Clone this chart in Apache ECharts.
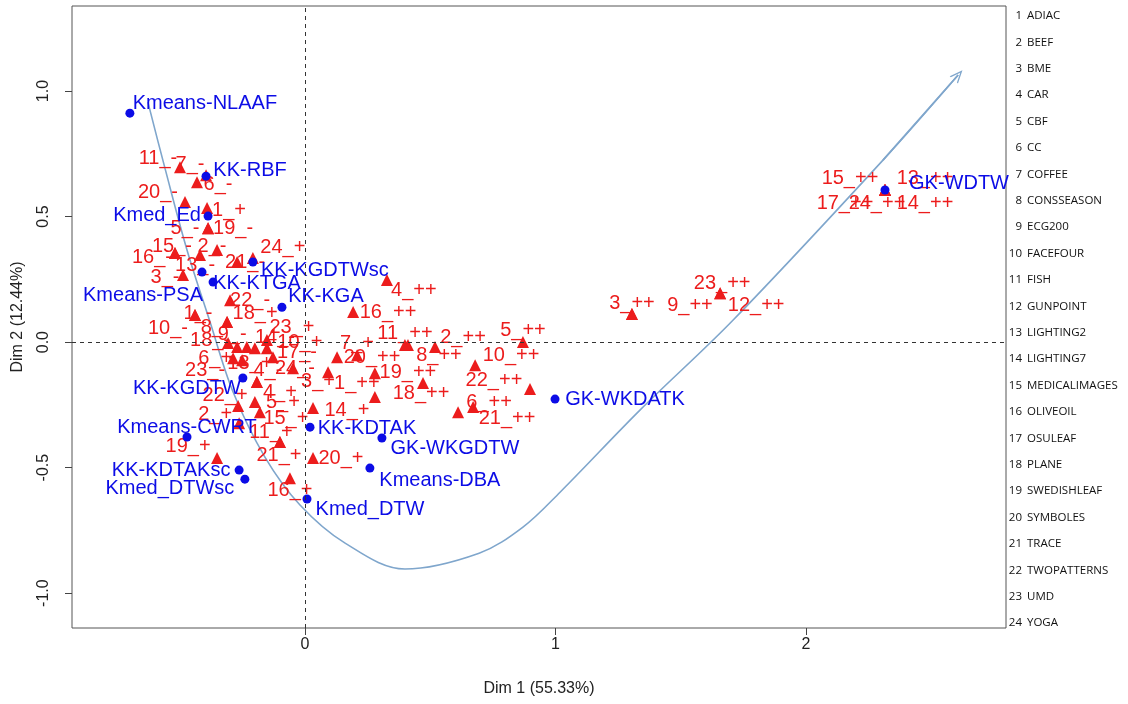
<!DOCTYPE html>
<html>
<head>
<meta charset="utf-8">
<script src="https://cdn.jsdelivr.net/npm/echarts@6/dist/echarts.min.js"></script>
<style>
html,body{margin:0;padding:0;background:#fff;}
#chart{width:1128px;height:704px;}
</style>
</head>
<body>
<div id="chart"></div>
<script>
// ---- data ----
const datasetNames = ['ADIAC','BEEF','BME','CAR','CBF','CC','COFFEE','CONSSEASON','ECG200','FACEFOUR','FISH','GUNPOINT','LIGHTING2','LIGHTING7','MEDICALIMAGES','OLIVEOIL','OSULEAF','PLANE','SWEDISHLEAF','SYMBOLES','TRACE','TWOPATTERNS','UMD','YOGA'];

const xTicks = [0, 1, 2];
const yTicks = [-1, -0.5, 0, 0.5, 1];

// individuals (blue)
const indNames = ['Kmeans-NLAAF','KK-RBF','Kmed_Ed','Kmeans-PSA','KK-KTGA','KK-KGDTWsc','KK-KGA','KK-KGDTW','Kmeans-CWRT','KK-KDTAKsc','Kmed_DTWsc','KK-KDTAK','GK-WKGDTW','Kmeans-DBA','Kmed_DTW','GK-WKDATK','GK-WDTW'];
const indX = [-0.699,-0.395,-0.387,-0.411,-0.367,-0.208,-0.092,-0.248,-0.471,-0.263,-0.240,0.020,0.307,0.259,0.008,0.998,2.315];
const indY = [0.912,0.661,0.502,0.279,0.239,0.319,0.139,-0.143,-0.378,-0.510,-0.546,-0.339,-0.382,-0.502,-0.625,-0.227,0.606];

// categories (red)
const modNames = ['11_-','7_-','6_-','20_-','1_+','5_-','19_-','2_-','15_-','16_-','24_+','21_-','13_-','3_-','22_-','18_+','1_-','10_-','8_-','23_+','9_-','18_-','14_-','10_+','17_-','6_+','13_+','23_-','4_-','24_-','3_+','4_+','22_+','5_+','2_+','15_+','14_+','11_+','19_+','21_+','20_+','16_+','4_++','16_++','11_++','2_++','5_++','7_+','20_++','8_++','10_++','19_++','1_++','22_++','18_++','6_++','21_++','3_++','9_++','12_++','23_++','15_++','13_++','17_++','24_++','14_++'];
const modX = [-0.499,-0.395,-0.431,-0.479,-0.391,-0.387,-0.387,-0.351,-0.519,-0.519,-0.208,-0.271,-0.419,-0.487,-0.299,-0.311,-0.439,-0.439,-0.311,-0.152,-0.307,-0.271,-0.152,-0.200,-0.128,-0.287,-0.232,-0.251,-0.192,-0.048,0.092,-0.192,-0.267,-0.200,-0.263,-0.180,0.032,-0.100,-0.351,-0.100,0.032,-0.060,0.327,0.192,0.399,0.519,0.870,0.128,0.208,0.411,0.679,0.279,0.279,0.898,0.471,0.671,0.611,1.305,1.305,1.657,1.657,2.315,2.315,2.315,2.315,2.315];
const modY = [0.697,0.665,0.637,0.558,0.534,0.454,0.454,0.367,0.355,0.355,0.335,0.319,0.347,0.267,0.167,0.080,0.108,0.108,0.080,0.008,-0.004,-0.020,-0.024,-0.024,-0.060,-0.064,-0.020,-0.072,-0.159,-0.104,-0.120,-0.159,-0.255,-0.239,-0.323,-0.279,-0.263,-0.398,-0.462,-0.398,-0.462,-0.542,0.247,0.120,-0.012,-0.020,0.000,-0.060,-0.052,-0.012,-0.092,-0.124,-0.219,-0.187,-0.163,-0.259,-0.279,0.112,0.112,0.195,0.195,0.606,0.606,0.606,0.606,0.606];

// trajectory curve
const curveX = [-0.627,-0.559,-0.471,-0.379,-0.287,-0.160,-0.020,0.160,0.399,0.695,0.870,1.018,1.337,1.709,2.307,2.607];
const curveY = [0.956,0.693,0.367,0.080,-0.199,-0.458,-0.649,-0.801,-0.904,-0.841,-0.737,-0.598,-0.271,0.088,0.725,1.064];

// ---- label placement (pixel offsets, style only) ----
const indLabelOffset = [[75,-10],[44,-6],[-51,-1],[-59,23],[44,1],[72,8],[44,-11],[-56,10],[0,-9],[-68,0],[-75,9],[57,1],[73,10],[70,12],[63,11],[70,0],[74,-7]];
const modLabelOffset = [[-22,-9],[-16,-11],[21,2],[-27,-10],[22,2],[-23,0],[25,0],[-5,-3],[-3,-7],[-23,4],[30,-11],[8,0],[-5,10],[-18,2],[20,0],[28,-9],[3,-2],[-27,13],[-12,5],[25,-13],[4,-9],[-27,-7],[8,-11],[45,-6],[24,-5],[-18,0],[3,16],[-37,10],[11,-12],[2,0],[-10,9],[23,10],[-13,-11],[28,0],[-24,-9],[26,6],[34,2],[-9,-10],[-29,-12],[-1,13],[28,0],[0,12],[27,10],[35,1],[0,-12],[28,-10],[0,-12],[20,-14],[15,2],[31,10],[36,-10],[33,-1],[-18,-14],[-36,-9],[-2,10],[16,-5],[49,6],[0,-11],[58,-9],[36,12],[2,-10],[-35,-12],[40,-12],[-40,13],[-8,13],[40,13]];

const RED = '#ec1c1c';
const BLUE = '#0c0ce6';
const CURVE = '#7fa6cc';
const FONT = '"Liberation Sans", Arial, sans-serif';

const curveData = curveX.map((x, i) => [x, curveY[i]]);
const n = curveData.length;

const legendGraphics = [];
datasetNames.forEach((name, i) => {
  const y = 16 + i * 26.4;
  legendGraphics.push({type:'text', x:1022, y:y, silent:true,
    style:{text:String(i+1), fill:'#111', font:'11.5px "Open Sans", sans-serif', textAlign:'right', align:'right', textVerticalAlign:'middle', verticalAlign:'middle'}});
  legendGraphics.push({type:'text', x:1027, y:y, silent:true,
    style:{text:name, fill:'#111', font:'11.5px "Open Sans", sans-serif', textAlign:'left', align:'left', textVerticalAlign:'middle', verticalAlign:'middle'}});
});

const chart = echarts.init(document.getElementById('chart'), null, {renderer:'canvas'});
chart.setOption({
  animation: false,
  backgroundColor: '#fff',
  grid: {left:72, right:122, top:6, bottom:76, show:true, borderColor:'#555', borderWidth:1, backgroundColor:'transparent'},
  xAxis: {
    type:'value', min:-0.93, max:2.798,
    splitLine:{show:false},
    axisLine:{show:false, onZero:false},
    axisTick:{show:true, inside:false, length:7, customValues:xTicks, lineStyle:{color:'#444'}},
    axisLabel:{customValues:xTicks, fontSize:16, color:'#222', margin:9, fontFamily:FONT, formatter:v=>String(v)},
    name:'Dim 1 (55.33%)', nameLocation:'middle', nameGap:53,
    nameTextStyle:{fontSize:16, color:'#222', fontFamily:FONT}
  },
  yAxis: {
    type:'value', min:-1.139, max:1.339,
    splitLine:{show:false},
    axisLine:{show:false, onZero:false},
    axisTick:{show:true, inside:false, length:7, customValues:yTicks, lineStyle:{color:'#444'}},
    axisLabel:{customValues:yTicks, fontSize:16, color:'#222', margin:20, rotate:90, fontFamily:FONT, formatter:v=>v.toFixed(1)},
    name:'Dim 2 (12.44%)', nameLocation:'middle', nameGap:46, nameRotate:90,
    nameTextStyle:{fontSize:16, color:'#222', fontFamily:FONT}
  },
  graphic: legendGraphics,
  series: [
    {
      type:'line', data:curveData, smooth:0.35, showSymbol:false, silent:true, z:1,
      lineStyle:{color:CURVE, width:1.6, opacity:1},
      markLine:{
        silent:true, animation:false,
        symbol:['none','path://M0,14 L7,0 L14,14 L12.2,14 L7,3.6 L1.8,14 Z'],
        symbolSize:[11,13],
        label:{show:false},
        lineStyle:{color:CURVE, width:1.6, type:'solid', opacity:1},
        data:[[{coord:curveData[n-2]},{coord:curveData[n-1]}]]
      }
    },
    {
      type:'scatter', silent:true, z:2, symbol:'none', data:[],
      markLine:{
        silent:true, symbol:'none', label:{show:false},
        lineStyle:{color:'#333', type:[4,4], width:1, opacity:1},
        data:[{xAxis:0},{yAxis:0}]
      }
    },
    {
      type:'scatter', z:3, symbol:'triangle', symbolSize:12,
      itemStyle:{color:RED, opacity:1},
      data: modNames.map((nm,i)=>({name:nm, value:[modX[i], modY[i]], label:{offset:modLabelOffset[i]}})),
      label:{show:true, position:'inside', formatter:'{b}', color:RED, opacity:1, fontSize:20, fontFamily:FONT},
      emphasis:{disabled:true}
    },
    {
      type:'scatter', z:4, symbol:'circle', symbolSize:9,
      itemStyle:{color:BLUE, opacity:1},
      data: indNames.map((nm,i)=>({name:nm, value:[indX[i], indY[i]], label:{offset:indLabelOffset[i]}})),
      label:{show:true, position:'inside', formatter:'{b}', color:BLUE, opacity:1, fontSize:20, fontFamily:FONT},
      emphasis:{disabled:true}
    }
  ]
});
</script>
</body>
</html>
